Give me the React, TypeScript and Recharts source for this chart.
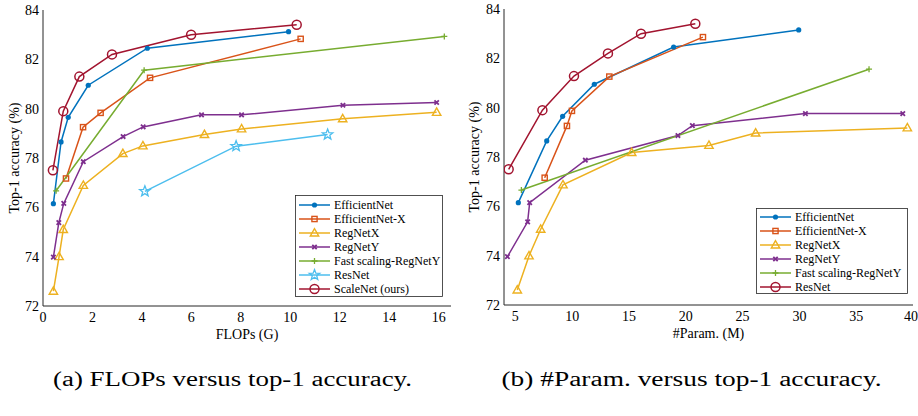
import { Legend, Line, LineChart, XAxis, YAxis } from "recharts";

// tick labels
const flopsTicks = [0, 2, 4, 6, 8, 10, 12, 14, 16];
const paramTicks = [5, 10, 15, 20, 25, 30, 35, 40];
const accTicks = [72, 74, 76, 78, 80, 82, 84];

// (a) FLOPs (G) vs top-1 accuracy (%)
const effFlops = [0.42, 0.73, 1.02, 1.83, 4.22, 9.93];
const effFlopsAcc = [76.15, 78.65, 79.65, 80.95, 82.45, 83.12];
const effXFlops = [0.93, 1.62, 2.33, 4.33, 10.42];
const effXFlopsAcc = [77.17, 79.25, 79.83, 81.25, 82.83];
const regXFlops = [0.42, 0.65, 0.82, 1.63, 3.23, 4.04, 6.53, 8.03, 12.12, 15.92];
const regXFlopsAcc = [72.6, 74.0, 75.1, 76.89, 78.18, 78.49, 78.95, 79.18, 79.59, 79.85];
const regYFlops = [0.42, 0.64, 0.84, 1.63, 3.24, 4.05, 6.41, 8.03, 12.13, 15.92];
const regYFlopsAcc = [73.98, 75.38, 76.16, 77.85, 78.87, 79.26, 79.75, 79.75, 80.14, 80.25];
const fastFlops = [0.53, 4.09, 16.23];
const fastFlopsAcc = [76.67, 81.56, 82.93];
const resFlops = [4.12, 7.81, 11.51];
const resFlopsAcc = [76.65, 78.48, 78.95];
const scaleFlops = [0.4, 0.82, 1.47, 2.79, 5.99, 10.26];
const scaleFlopsAcc = [77.5, 79.9, 81.3, 82.2, 83.0, 83.4];

// (b) #Param. (M) vs top-1 accuracy (%)
const effParams = [5.26, 7.76, 9.16, 11.95, 18.93, 29.94];
const effParamsAcc = [76.15, 78.65, 79.65, 80.95, 82.46, 83.15];
const effXParams = [7.58, 9.54, 9.98, 13.27, 21.51];
const effXParamsAcc = [77.16, 79.26, 79.87, 81.26, 82.86];
const regXParams = [5.17, 6.2, 7.23, 9.19, 15.24, 22.04, 26.15, 39.5];
const regXParamsAcc = [72.61, 73.99, 75.07, 76.87, 78.18, 78.47, 78.97, 79.18];
const regYParams = [4.3, 6.08, 6.26, 11.16, 19.31, 20.58, 30.53, 39.1];
const regYParamsAcc = [73.96, 75.37, 76.15, 77.87, 78.87, 79.27, 79.76, 79.76];
const fastParams = [5.53, 36.13];
const fastParamsAcc = [76.66, 81.56];
const scaleParams = [4.41, 7.38, 10.16, 13.15, 16.06, 20.84];
const scaleParamsAcc = [77.5, 79.9, 81.28, 82.2, 83.0, 83.4];

type MarkerKind = "dot" | "square" | "triangle" | "cross" | "plus" | "star" | "circle";

type Series = {
  name: string;
  color: string;
  marker: MarkerKind;
  data: { x: number; y: number }[];
};

const zip = (xs: number[], ys: number[]) => xs.map((x, i) => ({ x, y: ys[i] }));

const BLUE = "#0072BD";
const ORANGE = "#D95319";
const YELLOW = "#EDB120";
const PURPLE = "#7E2F8E";
const GREEN = "#77AC30";
const CYAN = "#4DBEEE";
const RED = "#A2142F";
const AXIS = "#262626";
const FONT = "Liberation Serif, DejaVu Serif, serif";

const flopsSeries: Series[] = [
  { name: "EfficientNet", color: BLUE, marker: "dot", data: zip(effFlops, effFlopsAcc) },
  { name: "EfficientNet-X", color: ORANGE, marker: "square", data: zip(effXFlops, effXFlopsAcc) },
  { name: "RegNetX", color: YELLOW, marker: "triangle", data: zip(regXFlops, regXFlopsAcc) },
  { name: "RegNetY", color: PURPLE, marker: "cross", data: zip(regYFlops, regYFlopsAcc) },
  { name: "Fast scaling-RegNetY", color: GREEN, marker: "plus", data: zip(fastFlops, fastFlopsAcc) },
  { name: "ResNet", color: CYAN, marker: "star", data: zip(resFlops, resFlopsAcc) },
  { name: "ScaleNet (ours)", color: RED, marker: "circle", data: zip(scaleFlops, scaleFlopsAcc) },
];

const paramSeries: Series[] = [
  { name: "EfficientNet", color: BLUE, marker: "dot", data: zip(effParams, effParamsAcc) },
  { name: "EfficientNet-X", color: ORANGE, marker: "square", data: zip(effXParams, effXParamsAcc) },
  { name: "RegNetX", color: YELLOW, marker: "triangle", data: zip(regXParams, regXParamsAcc) },
  { name: "RegNetY", color: PURPLE, marker: "cross", data: zip(regYParams, regYParamsAcc) },
  { name: "Fast scaling-RegNetY", color: GREEN, marker: "plus", data: zip(fastParams, fastParamsAcc) },
  { name: "ResNet", color: RED, marker: "circle", data: zip(scaleParams, scaleParamsAcc) },
];

function Marker({ kind, color, cx, cy }: { kind: MarkerKind; color: string; cx: number; cy: number }) {
  switch (kind) {
    case "dot":
      return <circle cx={cx} cy={cy} r={2.6} fill={color} />;
    case "square":
      return (
        <rect x={cx - 2.6} y={cy - 2.6} width={5.2} height={5.2} fill="none" stroke={color} strokeWidth={1.4} />
      );
    case "triangle":
      return (
        <polygon
          points={`${cx},${cy - 4.4} ${cx - 4.2},${cy + 3} ${cx + 4.2},${cy + 3}`}
          fill="none"
          stroke={color}
          strokeWidth={1.4}
        />
      );
    case "cross":
      return (
        <path
          d={`M${cx - 2.2},${cy - 2.2}L${cx + 2.2},${cy + 2.2}M${cx - 2.2},${cy + 2.2}L${cx + 2.2},${cy - 2.2}`}
          stroke={color}
          strokeWidth={1.8}
        />
      );
    case "plus":
      return (
        <path d={`M${cx - 3},${cy}L${cx + 3},${cy}M${cx},${cy - 3}L${cx},${cy + 3}`} stroke={color} strokeWidth={1.3} />
      );
    case "star": {
      const pts: string[] = [];
      for (let i = 0; i < 10; i++) {
        const r = i % 2 === 0 ? 5.5 : 2.3;
        const a = -Math.PI / 2 + (i * Math.PI) / 5;
        pts.push(`${cx + r * Math.cos(a)},${cy + r * Math.sin(a)}`);
      }
      return <polygon points={pts.join(" ")} fill="none" stroke={color} strokeWidth={1.3} />;
    }
    default:
      return <circle cx={cx} cy={cy} r={4.5} fill="none" stroke={color} strokeWidth={1.5} />;
  }
}

function LegendBox({ series, width, top }: { series: Series[]; width: number; top: number }) {
  const height = top * 2 + (series.length - 1) * 14 - 2;
  return (
    <svg width={width} height={height} style={{ display: "block" }}>
      <rect x={0.5} y={0.5} width={width - 1} height={height - 1} fill="#fff" stroke={AXIS} strokeWidth={0.8} />
      {series.map((s, i) => {
        const cy = top + i * 14;
        return (
          <g key={s.name}>
            <line x1={4} x2={35} y1={cy} y2={cy} stroke={s.color} strokeWidth={1.5} />
            <Marker kind={s.marker} color={s.color} cx={19.5} cy={cy} />
            <text x={39} y={cy + 4.2} fontSize={12} style={{ fontFamily: FONT }} fill="#000">
              {s.name}
            </text>
          </g>
        );
      })}
    </svg>
  );
}

type PanelProps = {
  series: Series[];
  ticks: number[];
  domain: [number, number];
  xLabel: string;
  width: number;
  height: number;
  margin: { top: number; right: number; bottom: number; left: number };
  yWidth: number;
  legendPos: { left: number; top: number; width: number; rowTop: number };
};

function Panel({ series, ticks, domain, xLabel, width, height, margin, yWidth, legendPos }: PanelProps) {
  const tickStyle = { fontSize: 14, fill: "#000", style: { fontFamily: FONT } };
  return (
    <LineChart width={width} height={height} margin={margin} style={{ fontFamily: FONT }}>
      <XAxis
        xAxisId="b"
        type="number"
        dataKey="x"
        domain={domain}
        ticks={ticks}
        allowDataOverflow
        tickLine={false}
        tickSize={0}
        tickMargin={6}
        axisLine={{ stroke: AXIS }}
        tick={tickStyle}
        height={40}
        label={{ value: xLabel, position: "insideBottom", offset: 7, fontSize: 14, fill: "#000", style: { fontFamily: FONT } }}
      />
      <XAxis
        xAxisId="bm"
        type="number"
        orientation="bottom"
        mirror
        domain={domain}
        ticks={ticks}
        allowDataOverflow
        height={0}
        tick={false}
        tickSize={5}
        axisLine={false}
        tickLine={{ stroke: AXIS }}
      />
      <XAxis
        xAxisId="t"
        type="number"
        orientation="top"
        mirror
        domain={domain}
        ticks={ticks}
        allowDataOverflow
        height={0}
        tick={false}
        tickSize={5}
        axisLine={{ stroke: AXIS }}
        tickLine={{ stroke: AXIS }}
      />
      <YAxis
        yAxisId="l"
        type="number"
        dataKey="y"
        domain={[72, 84]}
        ticks={accTicks}
        allowDataOverflow
        width={yWidth}
        tickLine={false}
        tickSize={0}
        tickMargin={4}
        axisLine={{ stroke: AXIS }}
        tick={tickStyle}
        label={{
          value: "Top-1 accuracy (%)",
          angle: -90,
          position: "insideLeft",
          offset: 14,
          style: { textAnchor: "middle", fontFamily: FONT },
          fontSize: 14,
          fill: "#000",
        }}
      />
      <YAxis
        yAxisId="lm"
        type="number"
        mirror
        domain={[72, 84]}
        ticks={accTicks}
        allowDataOverflow
        width={0}
        tick={false}
        tickSize={5}
        axisLine={false}
        tickLine={{ stroke: AXIS }}
      />
      <YAxis
        yAxisId="r"
        type="number"
        orientation="right"
        mirror
        domain={[72, 84]}
        ticks={accTicks}
        allowDataOverflow
        width={0}
        tick={false}
        tickSize={5}
        axisLine={{ stroke: AXIS }}
        tickLine={{ stroke: AXIS }}
      />
      {series.map((s) => (
        <Line
          key={s.name}
          xAxisId="b"
          yAxisId="l"
          data={s.data}
          dataKey="y"
          name={s.name}
          stroke={s.color}
          strokeWidth={1.5}
          isAnimationActive={false}
          dot={(p: any) => (
            <Marker key={`${s.name}-${p.index}`} kind={s.marker} color={s.color} cx={p.cx} cy={p.cy} />
          )}
          activeDot={false}
        />
      ))}
      <Legend
        layout="vertical"
        align="center"
        verticalAlign="middle"
        wrapperStyle={{ left: legendPos.left, top: legendPos.top, width: legendPos.width, bottom: "auto", right: "auto" }}
        content={() => <LegendBox series={series} width={legendPos.width} top={legendPos.rowTop} />}
      />
    </LineChart>
  );
}

export default function App() {
  return (
    <div style={{ position: "absolute", left: 0, top: 0, width: 918, height: 416, background: "#fff", fontFamily: FONT }}>
      <div style={{ position: "absolute", left: 0, top: 0 }}>
        <Panel
          series={flopsSeries}
          ticks={flopsTicks}
          domain={[0, 16.5]}
          xLabel="FLOPs (G)"
          width={460}
          height={346}
          margin={{ top: 10, right: 9, bottom: 0, left: 0 }}
          yWidth={43}
          legendPos={{ left: 295, top: 195, width: 148, rowTop: 10 }}
        />
      </div>
      <div style={{ position: "absolute", left: 460, top: 0 }}>
        <Panel
          series={paramSeries}
          ticks={paramTicks}
          domain={[4, 40]}
          xLabel="#Param. (M)"
          width={458}
          height={345}
          margin={{ top: 9, right: 5, bottom: 0, left: 0 }}
          yWidth={44}
          legendPos={{ left: 296, top: 208, width: 152, rowTop: 9 }}
        />
      </div>
      <svg width={918} height={416} style={{ position: "absolute", left: 0, top: 0, pointerEvents: "none" }}>
        <text
          x={232.5}
          y={386}
          textAnchor="middle"
          fontSize={20}
          style={{ fontFamily: FONT }}
          textLength={359}
          lengthAdjust="spacingAndGlyphs"
        >
          (a) FLOPs versus top-1 accuracy.
        </text>
        <text
          x={691.5}
          y={386}
          textAnchor="middle"
          fontSize={20}
          style={{ fontFamily: FONT }}
          textLength={380}
          lengthAdjust="spacingAndGlyphs"
        >
          (b) #Param. versus top-1 accuracy.
        </text>
      </svg>
    </div>
  );
}
